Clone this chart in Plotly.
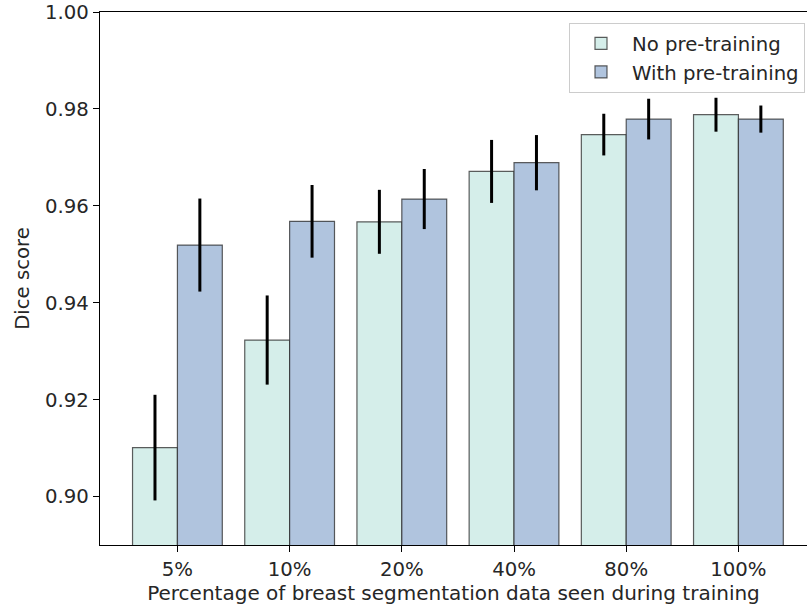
import plotly.graph_objects as go

categories = ["5%", "10%", "20%", "40%", "80%", "100%"]
no_pre = [0.9101, 0.9323, 0.9567, 0.9671, 0.9747, 0.9788]
no_pre_err = [0.0109, 0.0092, 0.0066, 0.0065, 0.0043, 0.0035]
with_pre = [0.9519, 0.9568, 0.9614, 0.9689, 0.9779, 0.9779]
with_pre_err = [0.0096, 0.0075, 0.0062, 0.0057, 0.0042, 0.0028]
y_ticks = [0.90, 0.92, 0.94, 0.96, 0.98, 1.00]

FONT = "DejaVu Sans"
FS = 19.7
TXT = "#262626"
edge = "rgba(40,40,40,0.75)"

W, H = 807, 611
L, T, B = 100, 12, 611 - 545
PW, PH = W - L, H - T - B

fig = go.Figure()
fig.add_trace(go.Bar(
    x=categories, y=no_pre, name="No pre-training",
    marker=dict(color="#d5eeea", line=dict(color=edge, width=1.2)),
    error_y=dict(type="data", array=no_pre_err, color="black", thickness=3, width=0),
))
fig.add_trace(go.Bar(
    x=categories, y=with_pre, name="With pre-training",
    marker=dict(color="#b0c4de", line=dict(color=edge, width=1.2)),
    error_y=dict(type="data", array=with_pre_err, color="black", thickness=3, width=0),
))

fig.update_layout(
    width=W, height=H,
    margin=dict(l=L, r=0, t=T, b=B, autoexpand=False),
    paper_bgcolor="white", plot_bgcolor="white",
    font=dict(family=FONT, size=FS, color=TXT),
    barmode="group", bargap=0.2, bargroupgap=0,
    legend=dict(
        x=(805 - 100) / PW, y=(545 - 23) / PH, xanchor="right", yanchor="top",
        bgcolor="rgba(255,255,255,0.8)", bordercolor="#cccccc", borderwidth=1,
        font=dict(family=FONT, size=FS, color=TXT),
        tracegroupgap=0, itemwidth=52,
    ),
    xaxis=dict(
        range=[-0.69, -0.69 + PW / 112.2], automargin=False,
        showline=True, linecolor="black", linewidth=1.3, mirror=True,
        ticks="outside", ticklen=6, tickwidth=1.3, tickcolor="black",
        showgrid=False, zeroline=False,
        tickfont=dict(family=FONT, size=FS, color=TXT),
        title=dict(text="Percentage of breast segmentation data seen during training",
                   font=dict(family=FONT, size=20, color=TXT), standoff=6),
    ),
    yaxis=dict(
        range=[0.89, 1.0], automargin=False, ticklabeloverflow="allow",
        tickvals=y_ticks, tickformat=".2f",
        showline=True, linecolor="black", linewidth=1.3,
        ticks="outside", ticklen=6, tickwidth=1.3, tickcolor="black",
        showgrid=False, zeroline=False,
        tickfont=dict(family=FONT, size=FS, color=TXT),
        title=dict(text="Dice score", font=dict(family=FONT, size=FS, color=TXT), standoff=10),
    ),
)

fig.write_html(
    "out.html",
    config={"displayModeBar": False},
    post_script="document.body.style.margin='0';document.body.style.overflow='hidden';",
)
